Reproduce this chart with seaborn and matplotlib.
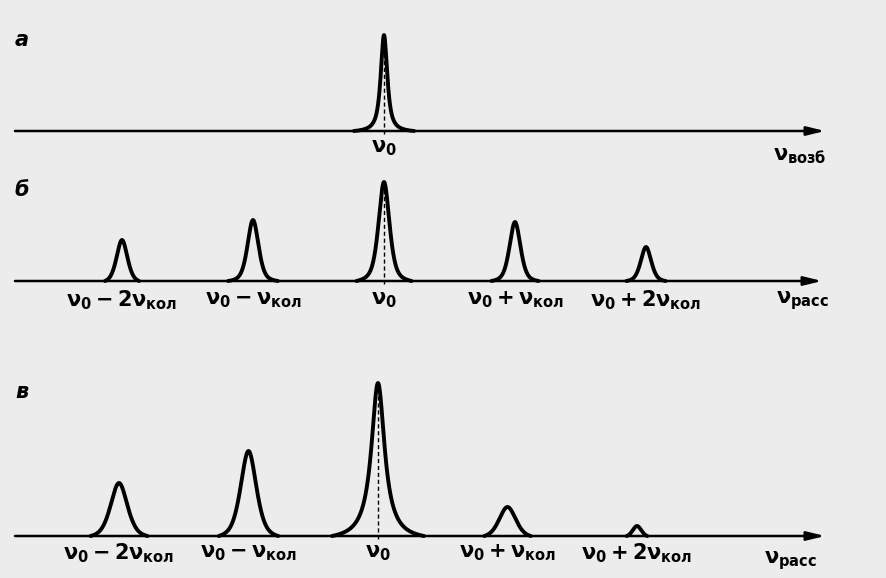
import numpy as np
import pandas as pd
import matplotlib
matplotlib.use("Agg")
import matplotlib.pyplot as plt
import seaborn as sns

sns.set_theme(style="white")
plt.rcParams['font.family'] = ['DejaVu Sans']
plt.rcParams['mathtext.fontset'] = 'custom'
plt.rcParams['mathtext.rm'] = 'DejaVu Sans:bold'
plt.rcParams['mathtext.it'] = 'DejaVu Sans:bold'
plt.rcParams['mathtext.bf'] = 'DejaVu Sans:bold'

# ---- data (peak positions in units of nu_кол offset from nu_0) ----
panel_letters = ["а", "б", "в"]
axis_labels = [r"$\nu_{\mathrm{возб}}$", r"$\nu_{\mathrm{расс}}$", r"$\nu_{\mathrm{расс}}$"]

pos_a = [0]
height_a = [96]
hwhm_a = [0.03]
base_a = [0.23]
lorentz_a = [0.85]
labels_a = [r"$\nu_0$"]

pos_b = [-2, -1, 0, 1, 2]
height_b = [41, 61, 99, 59, 34]
hwhm_b = [0.05, 0.05, 0.05, 0.05, 0.048]
base_b = [0.13, 0.19, 0.21, 0.18, 0.15]
lorentz_b = [0.5, 0.5, 0.6, 0.5, 0.5]
labels_b = [r"$\nu_0-2\nu_{\mathrm{кол}}$", r"$\nu_0-\nu_{\mathrm{кол}}$", r"$\nu_0$",
            r"$\nu_0+\nu_{\mathrm{кол}}$", r"$\nu_0+2\nu_{\mathrm{кол}}$"]

pos_c = [-2, -1, 0, 1, 2]
height_c = [53, 85, 153, 29, 10]
hwhm_c = [0.078, 0.073, 0.062, 0.077, 0.04]
base_c = [0.22, 0.23, 0.355, 0.18, 0.08]
lorentz_c = [0.5, 0.55, 1.0, 0.4, 0.3]
labels_c = labels_b

BG = "#ececec"


def profiles(pos, height, hwhm, base, eta):
    rows = []
    for i, (c, h, g, w, e) in enumerate(zip(pos, height, hwhm, base, eta)):
        x = np.linspace(-w, w, 241)
        f = lambda t: e / (1.0 + (t / g) ** 2) + (1 - e) * np.exp(-np.log(2) * (t / g) ** 2)
        y = h * (f(x) - f(w)) / (1 - f(w))
        rows.append(pd.DataFrame({"x": c + x, "y": y, "peak": i}))
    return pd.concat(rows, ignore_index=True)


fig = plt.figure(figsize=(8.87, 5.78), dpi=100)
fig.patch.set_facecolor(BG)

W, H = 887.0, 578.0
# (top px, bottom px, baseline px, center px, spacing px, axis end px)
layout = [
    (20, 170, 131, 384, 131, 825),
    (170, 330, 281, 384, 131, 822),
    (350, 578, 536, 378, 129.5, 825),
]
panels = [
    (pos_a, height_a, hwhm_a, base_a, lorentz_a, labels_a),
    (pos_b, height_b, hwhm_b, base_b, lorentz_b, labels_b),
    (pos_c, height_c, hwhm_c, base_c, lorentz_c, labels_c),
]
label_dy = [-17, -19, -17]
axlab_xy = [(800, -25), (802, -20), (790, -25)]

for k, ((top, bot, basey, cpx, sp, endpx), (pos, hts, gms, bss, etas, labs)) in enumerate(zip(layout, panels)):
    ax = fig.add_axes([0, 1 - bot / H, 1, (bot - top) / H])
    ax.set_facecolor(BG)
    ax.set_xlim((0 - cpx) / sp, (W - cpx) / sp)
    ax.set_ylim(-(bot - basey), basey - top)
    ax.axis("off")

    x0 = (15 - cpx) / sp
    x1 = (endpx - cpx) / sp
    ax.annotate("", xy=(x1, 0), xytext=(x0, 0),
                arrowprops=dict(arrowstyle="-|>,head_length=0.9,head_width=0.22",
                                color="black", lw=1.8, shrinkA=0, shrinkB=0))

    df = profiles(pos, hts, gms, bss, etas)
    sns.lineplot(data=df, x="x", y="y", units="peak", estimator=None, sort=False,
                 color="black", lw=2.8, ax=ax, legend=False)

    i0 = pos.index(0)
    ax.vlines(0, -3, hts[i0] * 0.95, colors="black", linestyles=(0, (3, 2)), lw=1.0)

    for p, lab in zip(pos, labs):
        ax.text(p, label_dy[k], lab, ha="center", va="center", fontsize=15, color="black")

    ax_x, ax_y = axlab_xy[k]
    ax.text((ax_x - cpx) / sp, ax_y, axis_labels[k], ha="center", va="center",
            fontsize=15, color="black")
    ax.text((22 - cpx) / sp, basey - (top + 20 if k < 2 else top + 42), panel_letters[k],
            ha="center", va="center", fontsize=15, fontstyle="italic", fontweight="bold",
            color="black")

fig.savefig("out.png", dpi=100, facecolor=BG)
